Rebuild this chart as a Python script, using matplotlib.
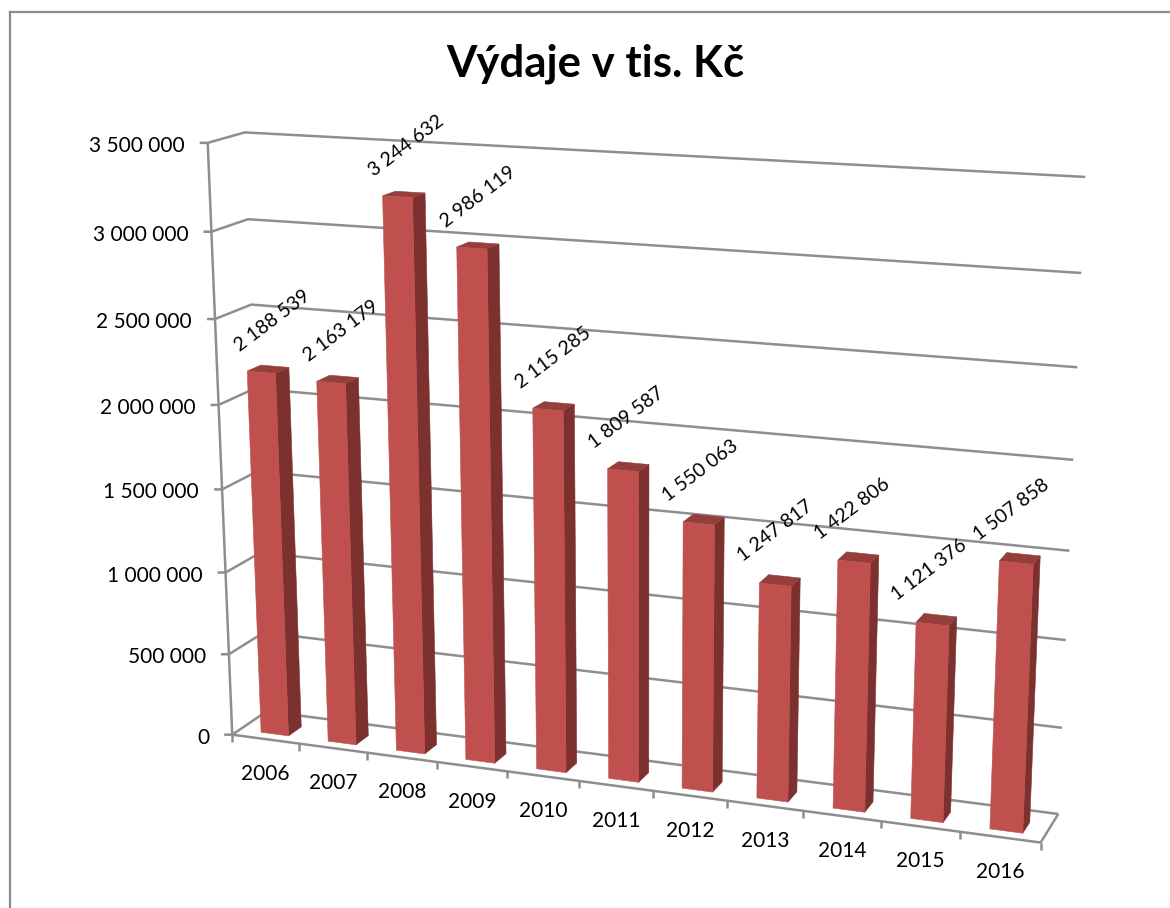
import numpy as np
import matplotlib
matplotlib.use("Agg")
import matplotlib.pyplot as plt
from matplotlib.lines import Line2D
from matplotlib.transforms import Transform

years = ["2006", "2007", "2008", "2009", "2010", "2011", "2012", "2013", "2014", "2015", "2016"]
expenses = [2188539, 2163179, 3244632, 2986119, 2115285, 1809587, 1550063, 1247817, 1422806, 1121376, 1507858]
axis_ticks = [0, 500000, 1000000, 1500000, 2000000, 2500000, 3000000, 3500000]
title = "Výdaje v tis. Kč"

W, H = 1170, 908
N = len(years)
VMAX = axis_ticks[-1]
BAR_X = (0.32, 0.73)   # bar extent inside a category slot
BAR_Z = (0.22, 0.60)   # bar extent along the depth axis

FRONT, SIDE, TOPC = "#C0504D", "#7C312F", "#943F3C"
GRID = "#8E8E8E"
FONT = "Lato"

# Calibration of the picture's perspective: world (slot, value, depth) -> pixel
anchors = [
    (0, 3500000, 0, 207, 143), (0, 3000000, 0, 211, 232), (0, 2500000, 0, 215, 318),
    (0, 2000000, 0, 218, 405), (0, 1500000, 0, 222, 489), (0, 1000000, 0, 226, 572),
    (0, 500000, 0, 230, 654), (0, 0, 0, 233, 736),
    (0, 3500000, 1, 245, 133), (0, 3000000, 1, 248, 219), (0, 2500000, 1, 252, 305),
    (0, 0, 1, 265, 711),
    (N, 3500000, 1, 1085, 177), (N, 3000000, 1, 1081, 273), (N, 2500000, 1, 1078, 367),
    (N, 2000000, 1, 1073, 460), (N, 1500000, 1, 1070, 551), (N, 1000000, 1, 1066, 640),
    (N, 500000, 1, 1062, 727), (N, 0, 1, 1058, 814),
    (N, 0, 0, 1040, 843),
]


def fit_projection(rows):
    eqs = []
    for x, v, z, px, py in rows:
        w = [x / N, v / VMAX, z, 1.0]
        eqs.append(w + [0, 0, 0, 0] + [-px * c for c in w])
        eqs.append([0, 0, 0, 0] + w + [-py * c for c in w])
    return np.linalg.svd(np.array(eqs))[2][-1].reshape(3, 4)


P = fit_projection(anchors)


def project(x, v, z):
    x, v, z = np.broadcast_arrays(np.asarray(x, float), np.asarray(v, float), np.asarray(z, float))
    q = np.stack([x / N, v / VMAX, z, np.ones_like(x)], axis=-1) @ P.T
    return q[..., 0] / q[..., 2], q[..., 1] / q[..., 2]


class PlaneAtDepth(Transform):
    """Maps (slot, value) on the plane at a given depth to picture pixels."""
    input_dims = output_dims = 2
    has_inverse = False

    def __init__(self, plane_depth):
        super().__init__()
        self.plane_depth = plane_depth

    def transform_non_affine(self, values):
        px, py = project(values[:, 0], values[:, 1], self.plane_depth)
        return np.column_stack([px, py])

    def transform_path_non_affine(self, path):
        return type(path)(self.transform_non_affine(path.vertices), path.codes)


plt.rcParams["font.family"] = [FONT, "DejaVu Sans"]
fig = plt.figure(figsize=(W / 100, H / 100), dpi=100, facecolor="white")
ax = fig.add_axes([0, 0, 1, 1])
ax.set_xlim(0, W)
ax.set_ylim(H, 0)
ax.axis("off")
ax.set_autoscale_on(False)

# outer chart frame
for xs, ys in [((10, 10), (908, 12)), ((10, 1170), (12, 12))]:
    ax.add_line(Line2D(xs, ys, color="#8A8A8A", lw=1.6, zorder=1))


def line(pts, **kw):
    ax.add_line(Line2D([p[0] for p in pts], [p[1] for p in pts], color=GRID, lw=1.8,
                       solid_capstyle="butt", solid_joinstyle="miter", zorder=2, **kw))


# walls and floor
for tick in axis_ticks:
    a, b, c = project(0, tick, 0), project(0, tick, 1), project(N, tick, 1)
    line([(float(a[0]) - 8, float(a[1])), (float(a[0]), float(a[1])), b, c])
    label = f"{tick:,}".replace(",", " ")
    ax.text(float(a[0]) - 23, float(a[1]) + 3, label, ha="right", va="center",
            fontsize=15, color="black")
line([project(0, 0, 0), project(0, VMAX, 0)])
line([project(0, 0, 0), project(N, 0, 0), project(N, 0, 1)])
for i in range(N + 1):
    px, py = project(i, 0, 0)
    line([(float(px), float(py)), (float(px), float(py) + 7)])

# bars
x_lo, x_hi = BAR_X
z_lo, z_hi = BAR_Z
slots = np.arange(N)
front_plane = PlaneAtDepth(z_lo) + ax.transData
ax.bar(slots + (x_lo + x_hi) / 2, expenses, width=x_hi - x_lo, color=FRONT, edgecolor=FRONT,
       linewidth=0.4, transform=front_plane, zorder=4)
for i, val in enumerate(expenses):
    l, r = i + x_lo, i + x_hi
    side = [project(r, 0, z_lo), project(r, val, z_lo), project(r, val, z_hi), project(r, 0, z_hi)]
    top = [project(l, val, z_lo), project(r, val, z_lo), project(r, val, z_hi), project(l, val, z_hi)]
    ax.fill(*zip(*side), facecolor=SIDE, edgecolor=SIDE, linewidth=0.4, zorder=3)
    ax.fill(*zip(*top), facecolor=TOPC, edgecolor=TOPC, linewidth=0.4, zorder=3)
    cx, cy = project(i + 0.5, val, 0.5)
    ax.text(float(cx) + 3 - 1.1 * i, float(cy) - 47, f"{val:,}".replace(",", " "), rotation=37,
            rotation_mode="anchor", ha="center", va="center", fontsize=14, color="black", zorder=5)
    lx, ly = project(i + 0.5, 0, 0)
    ax.text(float(lx), float(ly) + 35, years[i], ha="center", va="center", fontsize=15,
            color="black", zorder=5)

ax.text(595, 64, title, ha="center", va="center", fontsize=31.5, fontweight="bold", color="black")
fig.savefig("out.png", dpi=100, facecolor="white")
